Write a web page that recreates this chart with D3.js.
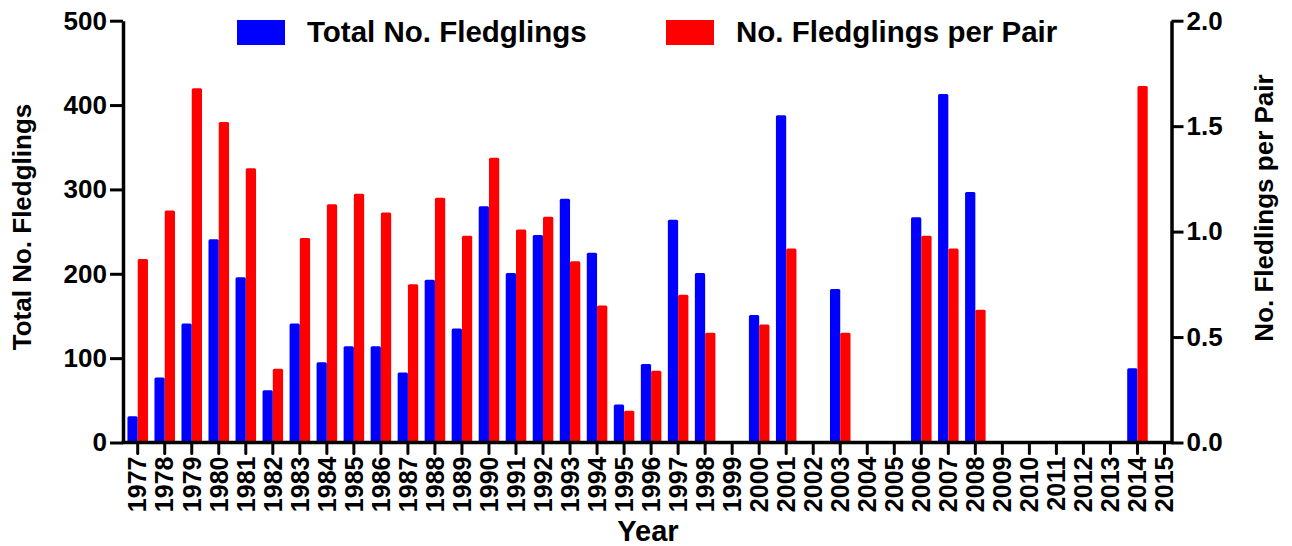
<!DOCTYPE html>
<html>
<head>
<meta charset="utf-8">
<title>Fledglings</title>
<script src="https://d3js.org/d3.v7.min.js"></script>
<style>
  body { margin: 0; background: #fff; }
  text { font-family: "Liberation Sans", Arial, sans-serif; font-weight: bold; fill: #000; }
</style>
</head>
<body>
<svg id="chart" width="1292" height="546"></svg>
<script>
// data
var years = ["1977","1978","1979","1980","1981","1982","1983","1984","1985","1986",
             "1987","1988","1989","1990","1991","1992","1993","1994","1995","1996",
             "1997","1998","1999","2000","2001","2002","2003","2004","2005","2006",
             "2007","2008","2009","2010","2011","2012","2013","2014","2015"];
var totalFledglings = [31,77,141,241,196,62,141,95,114,114,
                       83,193,135,280,201,246,289,225,45,93,
                       264,201,null,151,388,null,182,null,null,267,
                       413,297,null,null,null,null,null,88,null];
var perPair = [0.87,1.10,1.68,1.52,1.30,0.35,0.97,1.13,1.18,1.09,
               0.75,1.16,0.98,1.35,1.01,1.07,0.86,0.65,0.15,0.34,
               0.70,0.52,null,0.56,0.92,null,0.52,null,null,0.98,
               0.92,0.63,null,null,null,null,null,1.69,null];
var leftTicks = [0,100,200,300,400,500];
var rightTicks = [0,0.5,1.0,1.5,2.0];
var seriesNames = ["Total No. Fledglings","No. Fledglings per Pair"];
var seriesColors = ["#0000ff","#ff0000"];

var svg = d3.select("#chart");

var axisLeftX = 123, axisRightX = 1171.5;
var x = d3.scaleBand().domain(years).range([124.2, 1178]).paddingInner(0.24).paddingOuter(0.12);
var xs = d3.scaleBand().domain([0,1]).range([0, x.bandwidth()]);
var yL = d3.scaleLinear().domain([0,500]).range([442.5, 20.7]);
var yR = d3.scaleLinear().domain([0,2]).range([442.5, 20.7]);

var rows = years.map(function(y,i){ return {year:y, total:totalFledglings[i], pair:perPair[i]}; });

// bars
var g = svg.append("g");
g.selectAll(".blue").data(rows.filter(function(d){return d.total != null;}))
  .enter().append("rect")
  .attr("x", function(d){ return x(d.year) + xs(0); })
  .attr("y", function(d){ return yL(d.total); })
  .attr("width", xs.bandwidth())
  .attr("height", function(d){ return yL(0) - yL(d.total); })
  .attr("rx", 1.5)
  .attr("fill", seriesColors[0]);
g.selectAll(".red").data(rows.filter(function(d){return d.pair != null;}))
  .enter().append("rect")
  .attr("x", function(d){ return x(d.year) + xs(1); })
  .attr("y", function(d){ return yR(d.pair); })
  .attr("width", xs.bandwidth())
  .attr("height", function(d){ return yR(0) - yR(d.pair); })
  .attr("rx", 1.5)
  .attr("fill", seriesColors[1]);

// left axis
var la = svg.append("g").attr("transform", "translate(" + axisLeftX + ",0)")
  .call(d3.axisLeft(yL).tickValues(leftTicks).tickSize(13).tickSizeOuter(0).tickPadding(3));
la.selectAll("text").style("font-size", "26px");

// right axis
var ra = svg.append("g").attr("transform", "translate(" + axisRightX + ",0)")
  .call(d3.axisRight(yR).tickValues(rightTicks).tickFormat(d3.format(".1f")).tickSize(12).tickSizeOuter(0).tickPadding(3));
ra.selectAll("text").style("font-size", "26px");

// x axis
var xa = svg.append("g").attr("transform", "translate(0," + yL(0) + ")")
  .call(d3.axisBottom(x).tickSize(11).tickSizeOuter(0).tickPadding(0));
xa.select(".domain").remove();
xa.selectAll("line").attr("stroke-linecap", "round");
xa.selectAll("text")
  .style("font-size", "25px")
  .attr("text-anchor", "end")
  .attr("transform", "rotate(-90)")
  .attr("x", -14)
  .attr("y", 0)
  .attr("dy", "0.35em");
svg.append("line")
  .attr("x1", axisLeftX - 1.5).attr("x2", axisRightX + 1.5)
  .attr("y1", yL(0)).attr("y2", yL(0))
  .attr("stroke", "#000").attr("stroke-width", 3.5);

svg.selectAll(".domain").attr("stroke-width", 3.5);
svg.selectAll(".tick line").attr("stroke-width", 3);

// axis titles
svg.append("text")
  .attr("transform", "translate(22,227) rotate(-90)")
  .attr("text-anchor", "middle").attr("dy", "0.35em")
  .style("font-size", "26px")
  .text("Total No. Fledglings");
svg.append("text")
  .attr("transform", "translate(1264,208) rotate(-90)")
  .attr("text-anchor", "middle").attr("dy", "0.35em")
  .style("font-size", "26px")
  .text("No. Fledlings per Pair");
svg.append("text")
  .attr("x", 648).attr("y", 541)
  .attr("text-anchor", "middle")
  .style("font-size", "29px")
  .text("Year");

// legend
var legX = [237, 666];
var leg = svg.selectAll(".leg").data(seriesNames).enter().append("g")
  .attr("transform", function(d,i){ return "translate(" + legX[i] + ",20)"; });
leg.append("rect").attr("width", 48).attr("height", 25)
  .attr("fill", function(d,i){ return seriesColors[i]; });
leg.append("text").attr("x", 70).attr("y", 22)
  .style("font-size", "29.5px")
  .text(function(d){ return d; });
</script>
</body>
</html>
